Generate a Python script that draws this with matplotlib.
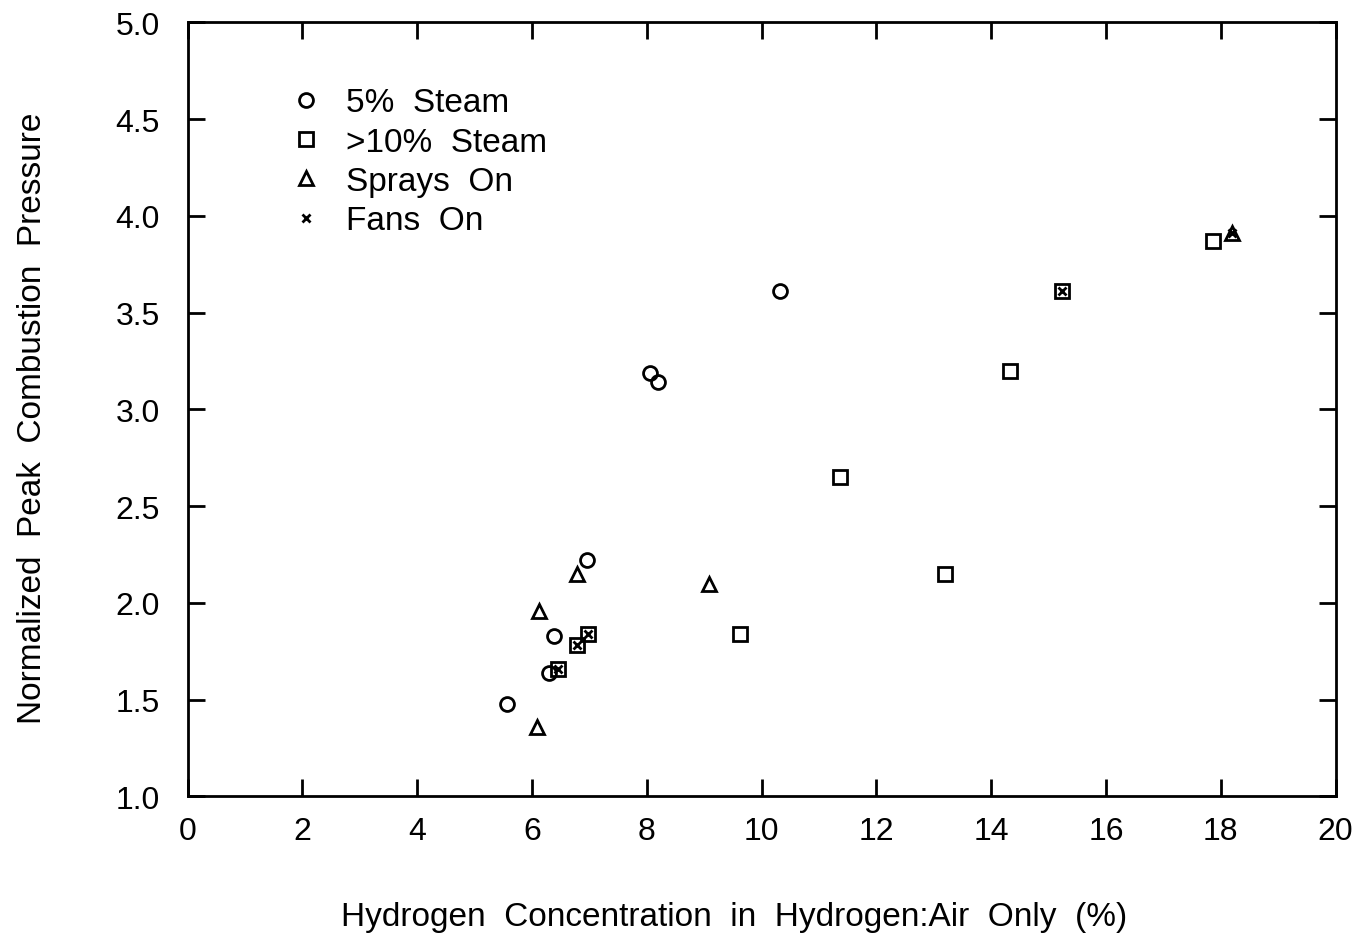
import matplotlib
matplotlib.use('Agg')
import matplotlib.pyplot as plt

plt.rcParams['font.family'] = ['Liberation Sans', 'DejaVu Sans']

# 5% steam
steam5_x = [5.57, 6.30, 6.39, 6.95, 8.05, 8.19, 10.32]
steam5_y = [1.48, 1.64, 1.83, 2.22, 3.19, 3.14, 3.61]

# >10% steam
steam10_x = [6.45, 6.79, 6.97, 9.62, 11.36, 13.20, 14.32, 15.23, 17.86]
steam10_y = [1.66, 1.78, 1.84, 1.84, 2.65, 2.15, 3.20, 3.61, 3.87]

# sprays on
spray_x = [6.08, 6.13, 6.79, 9.09, 18.19]
spray_y = [1.36, 1.96, 2.15, 2.10, 3.91]

# fans on
fans_x = [6.45, 6.79, 6.97, 15.23, 18.19]
fans_y = [1.66, 1.78, 1.84, 3.61, 3.91]

fig = plt.figure(figsize=(13.6, 9.37), dpi=100)
ax = fig.add_axes([0.138, 0.149, 0.844, 0.826])

mk = dict(linestyle='none', markerfacecolor='none', markeredgecolor='black',
          markeredgewidth=2.0, markersize=10)
ax.plot(steam5_x, steam5_y, marker='o', label='5%  Steam', **mk)
ax.plot(steam10_x, steam10_y, marker='s', label='>10%  Steam', **mk)
ax.plot(spray_x, spray_y, marker='^', label='Sprays  On', **mk)
ax.plot(fans_x, fans_y, marker='x', linestyle='none', color='black',
        markeredgewidth=2.0, markersize=6, label='Fans  On')

ax.set_xlim(0, 20)
ax.set_ylim(1.0, 5.0)
ax.set_xticks(range(0, 21, 2))
ax.set_yticks([1.0, 1.5, 2.0, 2.5, 3.0, 3.5, 4.0, 4.5, 5.0])
ax.set_yticklabels(['%.1f' % v for v in ax.get_yticks()])
ax.tick_params(direction='in', length=12, width=2, top=True, right=True,
               labelsize=23)
ax.tick_params(axis='y', pad=20)
ax.tick_params(axis='x', pad=14)
for s in ax.spines.values():
    s.set_linewidth(2)

ax.set_xlabel('Hydrogen  Concentration  in  Hydrogen:Air  Only  (%)',
              fontsize=24)
ax.xaxis.set_label_coords(0.476, -0.135)
ax.set_ylabel('Normalized  Peak  Combustion  Pressure', fontsize=24)
ax.yaxis.set_label_coords(-0.122, 0.49)

ax.legend(loc='upper left', bbox_to_anchor=(0.062, 0.955), frameon=False,
          fontsize=24, handlelength=1.0, handletextpad=0.7, labelspacing=0.25,
          markerscale=1.0)

fig.savefig('out.png', dpi=100)
